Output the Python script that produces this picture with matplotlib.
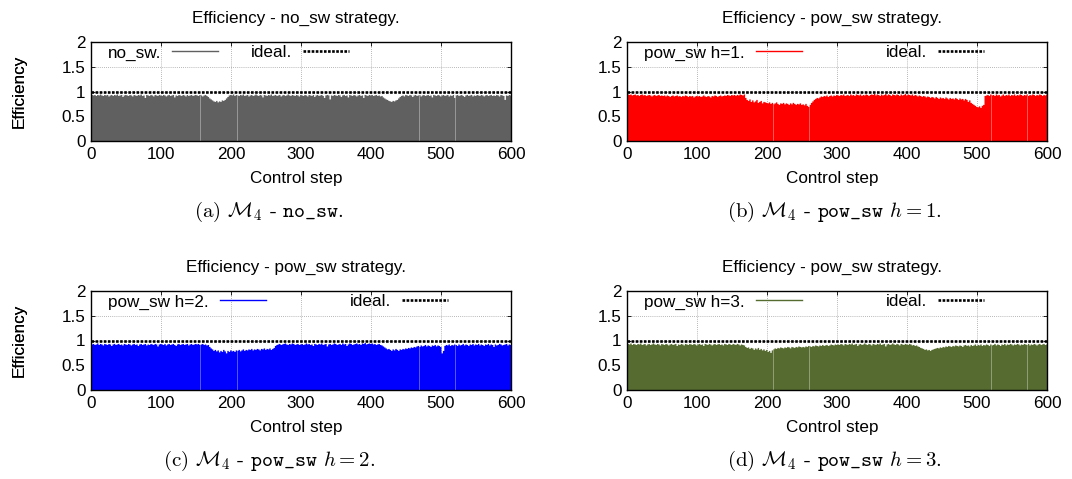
import numpy as np
import matplotlib
matplotlib.use("Agg")
import matplotlib.pyplot as plt
from matplotlib.lines import Line2D

plt.rcParams["font.family"] = ["Liberation Sans", "DejaVu Sans"]
plt.rcParams["mathtext.fontset"] = "cm"

# Efficiency per control step, one value per bin of 2 steps (300 bins -> 600 steps)
BIN = 2
steps_total = 600
ideal = 1.0

eff_no_sw = [
    0.94, 0.93, 0.94, 0.92, 0.94, 0.93, 0.95, 0.93, 0.92, 0.94, 0.93, 0.94, 0.91, 0.93, 0.94, 0.92, 0.94, 0.93, 0.95, 0.92, 0.93, 0.94, 0.90, 0.93, 0.94,
    0.93, 0.92, 0.94, 0.93, 0.91, 0.94, 0.93, 0.92, 0.94, 0.93, 0.95, 0.92, 0.93, 0.88, 0.94, 0.93, 0.92, 0.94, 0.93, 0.91, 0.94, 0.93, 0.92, 0.94, 0.93,
    0.92, 0.94, 0.93, 0.91, 0.93, 0.94, 0.92, 0.93, 0.94, 0.89, 0.93, 0.92, 0.94, 0.93, 0.92, 0.94, 0.93, 0.91, 0.94, 0.92, 0.93, 0.94, 0.92, 0.93, 0.94,
    0.93, 0.92, 0.94, 0.93, 0.91, 0.93, 0.94, 0.92, 0.90, 0.87, 0.85, 0.83, 0.81, 0.80, 0.82, 0.79, 0.81, 0.80, 0.83, 0.82, 0.84, 0.87, 0.90, 0.93, 0.94,
    0.93, 0.95, 0.92, 0.94, 0.93, 0.92, 0.94, 0.93, 0.95, 0.92, 0.93, 0.94, 0.91, 0.93, 0.94, 0.92, 0.93, 0.95, 0.93, 0.92, 0.94, 0.93, 0.89, 0.94, 0.93,
    0.92, 0.94, 0.93, 0.95, 0.92, 0.93, 0.94, 0.92, 0.93, 0.94, 0.91, 0.93, 0.94, 0.92, 0.93, 0.95, 0.93, 0.92, 0.94, 0.93, 0.92, 0.94, 0.93, 0.91, 0.94,
    0.93, 0.92, 0.94, 0.93, 0.91, 0.94, 0.93, 0.92, 0.94, 0.90, 0.93, 0.94, 0.92, 0.93, 0.94, 0.92, 0.88, 0.93, 0.94, 0.93, 0.85, 0.93, 0.92, 0.94, 0.93,
    0.92, 0.94, 0.93, 0.90, 0.93, 0.94, 0.92, 0.93, 0.89, 0.94, 0.93, 0.92, 0.94, 0.93, 0.91, 0.93, 0.94, 0.92, 0.93, 0.88, 0.94, 0.93, 0.92, 0.94, 0.93,
    0.94, 0.92, 0.93, 0.94, 0.92, 0.93, 0.91, 0.92, 0.89, 0.87, 0.85, 0.84, 0.82, 0.81, 0.80, 0.82, 0.81, 0.83, 0.84, 0.87, 0.90, 0.92, 0.93, 0.91, 0.94,
    0.93, 0.92, 0.94, 0.93, 0.90, 0.93, 0.94, 0.92, 0.93, 0.94, 0.91, 0.93, 0.94, 0.92, 0.93, 0.94, 0.92, 0.93, 0.89, 0.94, 0.93, 0.92, 0.94, 0.93, 0.91,
    0.93, 0.94, 0.92, 0.93, 0.94, 0.91, 0.93, 0.92, 0.94, 0.88, 0.93, 0.94, 0.92, 0.93, 0.94, 0.92, 0.90, 0.93, 0.94, 0.92, 0.93, 0.94, 0.91, 0.93, 0.92,
    0.94, 0.93, 0.92, 0.94, 0.93, 0.91, 0.93, 0.94, 0.92, 0.93, 0.94, 0.92, 0.93, 0.92, 0.94, 0.93, 0.91, 0.94, 0.93, 0.92, 0.84, 0.93, 0.92, 0.94, 0.93,
]

eff_pow_h1 = [
    0.95, 0.94, 0.95, 0.93, 0.94, 0.95, 0.93, 0.94, 0.92, 0.94, 0.95, 0.93, 0.94, 0.92, 0.93, 0.94, 0.93, 0.91, 0.93, 0.94, 0.92, 0.93, 0.94, 0.92, 0.93,
    0.92, 0.93, 0.91, 0.93, 0.92, 0.90, 0.92, 0.93, 0.91, 0.92, 0.93, 0.91, 0.92, 0.90, 0.92, 0.91, 0.93, 0.92, 0.90, 0.92, 0.91, 0.92, 0.89, 0.91, 0.92,
    0.91, 0.92, 0.90, 0.91, 0.93, 0.91, 0.90, 0.92, 0.91, 0.89, 0.92, 0.91, 0.93, 0.92, 0.90, 0.92, 0.93, 0.91, 0.92, 0.93, 0.92, 0.94, 0.93, 0.92, 0.94,
    0.93, 0.94, 0.92, 0.94, 0.93, 0.95, 0.94, 0.93, 0.95, 0.88, 0.84, 0.82, 0.85, 0.80, 0.83, 0.79, 0.81, 0.84, 0.78, 0.80, 0.82, 0.77, 0.80, 0.79, 0.78,
    0.77, 0.79, 0.76, 0.78, 0.75, 0.77, 0.79, 0.76, 0.74, 0.77, 0.76, 0.78, 0.75, 0.77, 0.76, 0.74, 0.77, 0.75, 0.78, 0.76, 0.74, 0.76, 0.75, 0.77, 0.74,
    0.75, 0.73, 0.76, 0.72, 0.70, 0.74, 0.78, 0.81, 0.84, 0.86, 0.88, 0.87, 0.89, 0.91, 0.90, 0.92, 0.91, 0.93, 0.90, 0.92, 0.93, 0.91, 0.93, 0.92, 0.94,
    0.93, 0.92, 0.94, 0.93, 0.95, 0.92, 0.93, 0.94, 0.92, 0.95, 0.93, 0.94, 0.92, 0.95, 0.94, 0.93, 0.95, 0.92, 0.94, 0.93, 0.95, 0.94, 0.92, 0.94, 0.95,
    0.94, 0.96, 0.93, 0.95, 0.94, 0.92, 0.95, 0.93, 0.94, 0.96, 0.93, 0.95, 0.94, 0.92, 0.95, 0.94, 0.93, 0.95, 0.94, 0.92, 0.95, 0.93, 0.94, 0.96, 0.93,
    0.95, 0.94, 0.93, 0.95, 0.92, 0.94, 0.93, 0.91, 0.93, 0.92, 0.90, 0.92, 0.91, 0.89, 0.91, 0.90, 0.88, 0.90, 0.89, 0.87, 0.90, 0.88, 0.86, 0.89, 0.87,
    0.88, 0.86, 0.89, 0.87, 0.85, 0.88, 0.86, 0.87, 0.85, 0.88, 0.86, 0.84, 0.87, 0.85, 0.86, 0.83, 0.86, 0.84, 0.80, 0.83, 0.78, 0.76, 0.74, 0.72, 0.70,
    0.69, 0.71, 0.68, 0.72, 0.74, 0.92, 0.93, 0.94, 0.92, 0.95, 0.93, 0.94, 0.92, 0.95, 0.93, 0.94, 0.91, 0.93, 0.95, 0.92, 0.94, 0.93, 0.95, 0.92, 0.94,
    0.93, 0.95, 0.92, 0.94, 0.93, 0.95, 0.94, 0.92, 0.94, 0.93, 0.95, 0.92, 0.94, 0.93, 0.95, 0.94, 0.92, 0.94, 0.93, 0.95, 0.94, 0.92, 0.94, 0.93, 0.95,
]

eff_pow_h2 = [
    0.93, 0.94, 0.92, 0.93, 0.95, 0.92, 0.94, 0.93, 0.91, 0.94, 0.93, 0.92, 0.94, 0.93, 0.90, 0.93, 0.94, 0.92, 0.93, 0.94, 0.92, 0.93, 0.91, 0.94, 0.93,
    0.92, 0.94, 0.93, 0.91, 0.93, 0.94, 0.92, 0.93, 0.90, 0.93, 0.94, 0.92, 0.93, 0.94, 0.91, 0.93, 0.92, 0.94, 0.93, 0.92, 0.94, 0.93, 0.89, 0.93, 0.94,
    0.93, 0.92, 0.94, 0.91, 0.93, 0.94, 0.92, 0.93, 0.94, 0.92, 0.90, 0.93, 0.94, 0.92, 0.93, 0.94, 0.92, 0.93, 0.94, 0.91, 0.93, 0.94, 0.92, 0.93, 0.94,
    0.93, 0.94, 0.92, 0.93, 0.94, 0.92, 0.93, 0.91, 0.92, 0.88, 0.85, 0.83, 0.80, 0.82, 0.79, 0.81, 0.77, 0.80, 0.78, 0.82, 0.79, 0.75, 0.80, 0.78, 0.81,
    0.79, 0.80, 0.78, 0.81, 0.80, 0.82, 0.79, 0.81, 0.83, 0.80, 0.82, 0.81, 0.83, 0.82, 0.84, 0.81, 0.83, 0.82, 0.84, 0.83, 0.81, 0.84, 0.83, 0.85, 0.82,
    0.84, 0.83, 0.85, 0.82, 0.84, 0.86, 0.90, 0.92, 0.93, 0.94, 0.92, 0.93, 0.94, 0.95, 0.93, 0.92, 0.94, 0.93, 0.95, 0.94, 0.92, 0.93, 0.94, 0.92, 0.93,
    0.94, 0.92, 0.93, 0.95, 0.93, 0.94, 0.92, 0.93, 0.90, 0.94, 0.93, 0.92, 0.94, 0.93, 0.95, 0.92, 0.93, 0.94, 0.89, 0.93, 0.94, 0.92, 0.93, 0.95, 0.94,
    0.92, 0.93, 0.94, 0.92, 0.95, 0.93, 0.94, 0.90, 0.93, 0.95, 0.94, 0.92, 0.93, 0.94, 0.95, 0.93, 0.94, 0.92, 0.95, 0.94, 0.96, 0.93, 0.94, 0.95, 0.94,
    0.95, 0.93, 0.94, 0.92, 0.93, 0.94, 0.92, 0.91, 0.89, 0.87, 0.85, 0.83, 0.84, 0.82, 0.80, 0.83, 0.81, 0.84, 0.82, 0.80, 0.83, 0.82, 0.84, 0.83, 0.85,
    0.84, 0.86, 0.85, 0.87, 0.86, 0.88, 0.87, 0.89, 0.90, 0.88, 0.91, 0.89, 0.90, 0.92, 0.89, 0.91, 0.90, 0.88, 0.91, 0.90, 0.92, 0.89, 0.91, 0.90, 0.88,
    0.75, 0.80, 0.90, 0.92, 0.91, 0.93, 0.90, 0.92, 0.91, 0.93, 0.92, 0.90, 0.93, 0.91, 0.92, 0.94, 0.91, 0.93, 0.92, 0.90, 0.93, 0.92, 0.94, 0.91, 0.93,
    0.92, 0.94, 0.91, 0.93, 0.92, 0.90, 0.93, 0.92, 0.94, 0.91, 0.93, 0.92, 0.88, 0.93, 0.91, 0.92, 0.94, 0.93, 0.91, 0.92, 0.93, 0.94, 0.91, 0.93, 0.92,
]

eff_pow_h3 = [
    0.94, 0.93, 0.95, 0.92, 0.94, 0.93, 0.92, 0.94, 0.93, 0.95, 0.92, 0.93, 0.94, 0.91, 0.93, 0.94, 0.92, 0.93, 0.95, 0.93, 0.92, 0.94, 0.93, 0.91, 0.94,
    0.93, 0.92, 0.94, 0.93, 0.91, 0.93, 0.94, 0.92, 0.93, 0.94, 0.90, 0.93, 0.92, 0.94, 0.93, 0.91, 0.94, 0.93, 0.92, 0.94, 0.93, 0.92, 0.94, 0.93, 0.91,
    0.93, 0.94, 0.92, 0.93, 0.90, 0.94, 0.93, 0.92, 0.94, 0.93, 0.91, 0.93, 0.94, 0.92, 0.93, 0.94, 0.92, 0.93, 0.91, 0.94, 0.93, 0.92, 0.94, 0.93, 0.92,
    0.94, 0.93, 0.92, 0.94, 0.93, 0.91, 0.93, 0.92, 0.91, 0.88, 0.86, 0.87, 0.84, 0.86, 0.85, 0.82, 0.85, 0.83, 0.86, 0.82, 0.84, 0.81, 0.83, 0.80, 0.82,
    0.78, 0.80, 0.76, 0.81, 0.83, 0.85, 0.84, 0.86, 0.85, 0.87, 0.86, 0.85, 0.87, 0.86, 0.88, 0.87, 0.85, 0.88, 0.87, 0.86, 0.88, 0.87, 0.89, 0.88, 0.87,
    0.88, 0.87, 0.89, 0.88, 0.90, 0.89, 0.88, 0.90, 0.89, 0.91, 0.90, 0.89, 0.91, 0.90, 0.92, 0.90, 0.91, 0.92, 0.90, 0.91, 0.93, 0.92, 0.91, 0.93, 0.92,
    0.93, 0.92, 0.94, 0.93, 0.91, 0.94, 0.93, 0.92, 0.94, 0.93, 0.95, 0.92, 0.93, 0.94, 0.90, 0.93, 0.94, 0.92, 0.93, 0.95, 0.93, 0.92, 0.94, 0.93, 0.91,
    0.94, 0.93, 0.92, 0.94, 0.93, 0.95, 0.92, 0.93, 0.94, 0.89, 0.93, 0.94, 0.92, 0.93, 0.95, 0.93, 0.92, 0.94, 0.93, 0.91, 0.94, 0.93, 0.92, 0.94, 0.93,
    0.92, 0.94, 0.93, 0.91, 0.92, 0.90, 0.91, 0.89, 0.88, 0.86, 0.85, 0.84, 0.82, 0.83, 0.81, 0.82, 0.80, 0.82, 0.83, 0.84, 0.85, 0.86, 0.85, 0.87, 0.86,
    0.88, 0.87, 0.89, 0.88, 0.90, 0.89, 0.88, 0.90, 0.89, 0.91, 0.90, 0.89, 0.91, 0.90, 0.88, 0.91, 0.92, 0.90, 0.91, 0.89, 0.92, 0.90, 0.91, 0.93, 0.90,
    0.92, 0.91, 0.93, 0.90, 0.92, 0.91, 0.93, 0.92, 0.90, 0.93, 0.91, 0.92, 0.94, 0.91, 0.93, 0.92, 0.90, 0.93, 0.92, 0.94, 0.91, 0.93, 0.92, 0.94, 0.93,
    0.91, 0.93, 0.92, 0.94, 0.93, 0.91, 0.93, 0.92, 0.94, 0.93, 0.92, 0.94, 0.91, 0.93, 0.92, 0.94, 0.93, 0.91, 0.93, 0.94, 0.92, 0.93, 0.94, 0.92, 0.93,
]

# Control steps with no recorded sample
gaps_no_sw = [156, 208, 468, 520]
gaps_h1 = [208, 260, 520, 572]
gaps_h2 = [156, 208, 468, 520]
gaps_h3 = [208, 260, 520, 572]

titles = ["Efficiency - no_sw strategy.", "Efficiency - pow_sw strategy.",
          "Efficiency - pow_sw strategy.", "Efficiency - pow_sw strategy."]
series_labels = ["no_sw.", "pow_sw h=1.", "pow_sw h=2.", "pow_sw h=3."]
captions = [r"(a) $\mathcal{M}_4$ - $\mathtt{no\_sw}$.",
            r"(b) $\mathcal{M}_4$ - $\mathtt{pow\_sw}$ $h=1$.",
            r"(c) $\mathcal{M}_4$ - $\mathtt{pow\_sw}$ $h=2$.",
            r"(d) $\mathcal{M}_4$ - $\mathtt{pow\_sw}$ $h=3$."]
colors = ["#606060", "#ff0000", "#0000ff", "#556b2f"]
xticks = [0, 100, 200, 300, 400, 500, 600]
yticks = [0, 0.5, 1, 1.5, 2]
ytick_labels = ["0", "0.5", "1", "1.5", "2"]

series = [eff_no_sw, eff_pow_h1, eff_pow_h2, eff_pow_h3]
gaps = [gaps_no_sw, gaps_h1, gaps_h2, gaps_h3]
for s in series:
    assert len(s) * BIN == steps_total

W, H = 1072, 479
FS = 12.3
fig = plt.figure(figsize=(W / 100, H / 100), dpi=100)

# axes boxes in pixels: (left, top, right, bottom)
boxes = [(91, 42, 511, 141), (627, 42, 1047, 141),
         (91, 291, 511, 390), (627, 291, 1047, 390)]
caption_x = [269, 834, 269, 834]
col_space = [1.9, 4.9, 4.9, 4.9]
dots = (0, (1.0, 0.55))

for i, (l, t, r, b) in enumerate(boxes):
    ax = fig.add_axes([l / W, 1 - b / H, (r - l) / W, (b - t) / H])
    vals = np.asarray(series[i])
    edges = np.arange(len(vals) + 1) * BIN
    ax.fill_between(edges, np.append(vals, vals[-1]), 0, step="post",
                    color=colors[i], linewidth=0, zorder=2)
    # missing samples show as thin light gaps in the fill
    gx = np.asarray(gaps[i])
    ax.vlines(gx, 0, vals[gx // BIN], color="white", alpha=0.35, lw=0.7, zorder=3)
    ax.axhline(ideal, color="black", lw=1.9, ls=dots, zorder=4)

    ax.set_xlim(0, steps_total)
    ax.set_ylim(0, 2)
    ax.set_xticks(xticks)
    ax.set_yticks(yticks)
    ax.set_yticklabels(ytick_labels)
    ax.tick_params(direction="in", length=3, width=0.6, labelsize=FS, pad=4,
                   top=True, right=True)
    ax.grid(True, color="#a0a0a0", lw=0.6, ls=(0, (1, 1.5)), zorder=1)
    ax.set_axisbelow(True)
    for sp in ax.spines.values():
        sp.set_linewidth(1.0)
        sp.set_zorder(5)

    ax.set_title(titles[i], fontsize=FS, pad=14, x=0.488)
    ax.set_xlabel("Control step", fontsize=FS, labelpad=8)
    ax.xaxis.set_label_coords(0.488, -0.30)
    ax.set_ylabel("Efficiency", fontsize=FS)
    ax.yaxis.set_label_coords(-(l - 27) / (r - l), 0.5)

    handles = [Line2D([], [], color=colors[i], lw=1.0),
               Line2D([], [], color="black", lw=1.9, ls=dots)]
    ax.legend(handles, [series_labels[i], "ideal."], ncol=2, loc="upper left",
              bbox_to_anchor=(0.032, 1.0), frameon=False, markerfirst=False,
              fontsize=FS, handlelength=2.7, handletextpad=0.65,
              columnspacing=col_space[i], borderaxespad=0.0, borderpad=0.2)

    fig.text(caption_x[i] / W, 1 - (b + 71) / H, captions[i], ha="center",
             va="center", fontsize=15, family="cmr10")

fig.savefig("out.png", dpi=100)
